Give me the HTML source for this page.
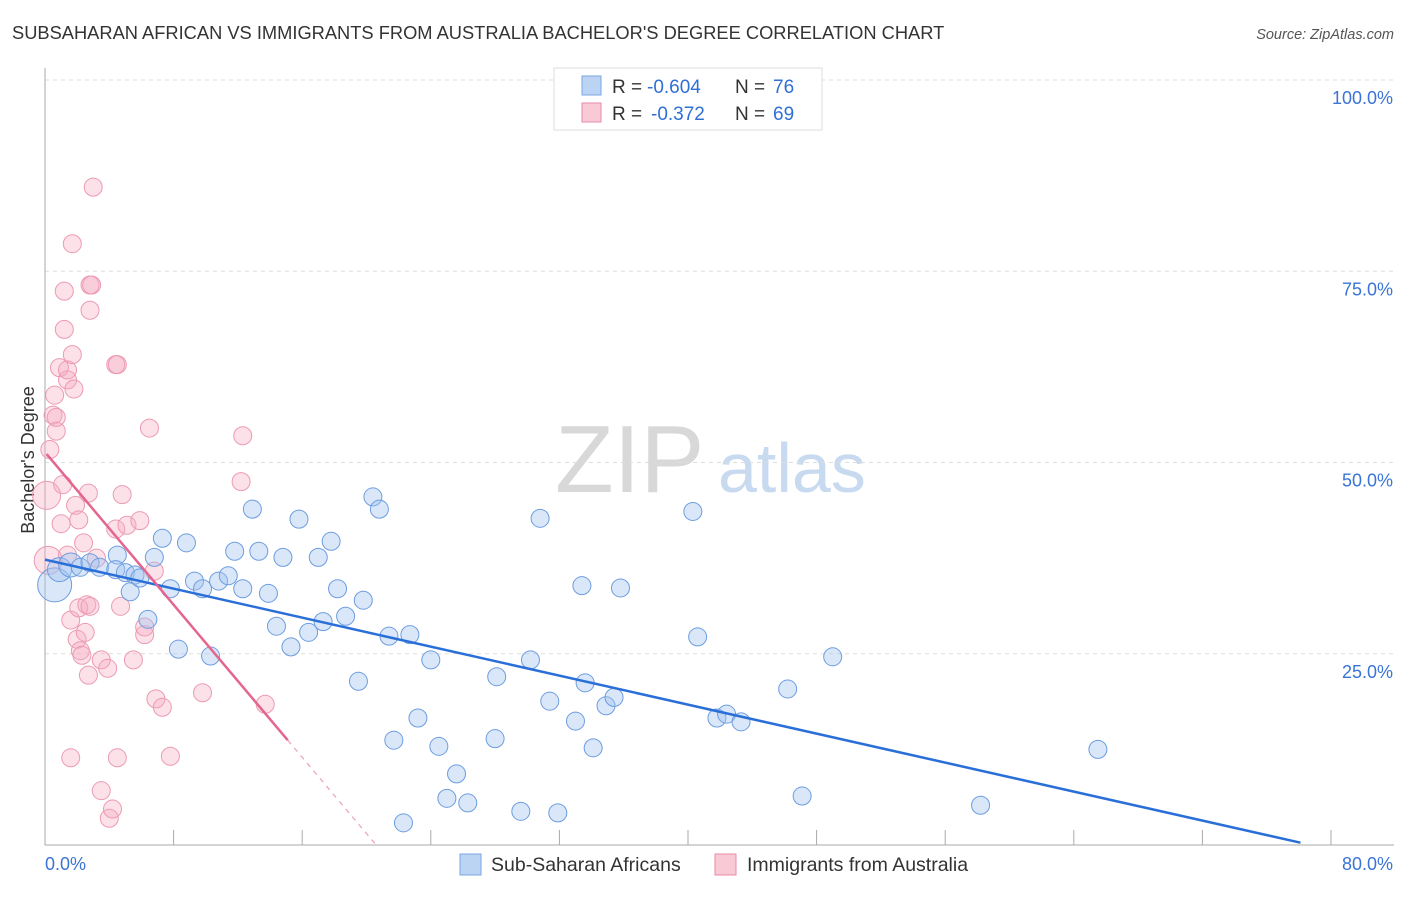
<!DOCTYPE html>
<html><head><meta charset="utf-8"><style>
body{margin:0;background:#fff;font-family:"Liberation Sans",sans-serif;}
svg text{font-family:"Liberation Sans",sans-serif;}
</style></head><body>
<svg id="c" width="1406" height="892">
<text x="12" y="39" font-size="18.3" fill="#333">SUBSAHARAN AFRICAN VS IMMIGRANTS FROM AUSTRALIA BACHELOR'S DEGREE CORRELATION CHART</text>
<text x="1394" y="39" font-size="14.5" fill="#555" font-style="italic" text-anchor="end">Source: ZipAtlas.com</text>
<text x="34" y="460" font-size="18" fill="#333" text-anchor="middle" transform="rotate(-90 34 460)">Bachelor's Degree</text>
<text x="555" y="492" font-size="96" fill="#d8d8d8" font-family="Liberation Serif">ZIP</text>
<text x="718" y="492" font-size="70" fill="#c8daf0">atlas</text>
<g id="grid"></g><g id="pts"></g><g id="lines"></g>
<g>
<rect x="554" y="68" width="268" height="62" fill="#fff" stroke="#ddd"/>
<rect x="582" y="76" width="19" height="19" fill="#bcd4f4" stroke="#7aa6e0"/>
<rect x="582" y="103" width="19" height="19" fill="#f9c9d6" stroke="#e88aa6"/>
<text x="612" y="93" font-size="19" fill="#333">R =</text>
<text x="647" y="93" font-size="19" fill="#2f6fd6">-0.604</text>
<text x="735" y="93" font-size="19" fill="#333">N =</text>
<text x="773" y="93" font-size="19" fill="#2f6fd6">76</text>
<text x="612" y="120" font-size="19" fill="#333">R =</text>
<text x="651" y="120" font-size="19" fill="#2f6fd6">-0.372</text>
<text x="735" y="120" font-size="19" fill="#333">N =</text>
<text x="773" y="120" font-size="19" fill="#2f6fd6">69</text>
</g>
<g>
<rect x="460" y="854" width="21" height="21" fill="#bcd4f4" stroke="#7aa6e0"/>
<text x="491" y="871" font-size="19.5" fill="#333">Sub-Saharan Africans</text>
<rect x="715" y="854" width="21" height="21" fill="#f9c9d6" stroke="#e88aa6"/>
<text x="747" y="871" font-size="19.5" fill="#333">Immigrants from Australia</text>
</g>
</svg>
<script>
const yTicks=[25,50,75,100];
const yTickLabels=["25.0%","50.0%","75.0%","100.0%"];
const blueX=[0.6,0.9,1.6,2.2,2.8,3.4,4.5,4.4,5.0,5.3,5.6,5.9,6.4,6.8,7.3,7.8,8.3,8.8,9.3,9.8,10.3,10.8,11.4,11.8,12.3,12.9,13.3,13.9,14.4,14.8,15.3,15.8,16.4,17.0,17.3,17.8,18.2,18.7,19.5,19.8,20.4,20.8,21.4,21.7,22.3,22.7,23.2,24.0,24.5,25.0,25.6,26.3,28.0,28.1,29.6,30.2,30.8,31.4,31.9,33.0,33.4,33.6,34.1,34.9,35.4,35.8,40.3,40.6,41.8,42.4,43.3,46.2,47.1,49.0,58.2,65.5];
const blueY=[34.0,36.0,36.6,36.3,36.9,36.3,37.9,36.0,35.6,33.1,35.3,34.9,29.5,37.6,40.1,33.5,25.6,39.5,34.5,33.5,24.7,34.5,35.2,38.4,33.5,43.9,38.4,32.9,28.6,37.6,25.9,42.6,27.8,37.6,29.2,39.7,33.5,29.9,21.4,32.0,45.5,43.9,27.3,13.7,2.9,27.5,16.6,24.2,12.9,6.1,9.3,5.5,13.9,22.0,4.4,24.2,42.7,18.8,4.2,16.2,33.9,21.2,12.7,18.2,19.3,33.6,43.6,27.2,16.6,17.1,16.1,20.4,6.4,24.6,5.2,12.5];
const pinkX=[0.1,0.2,0.3,0.5,0.6,0.7,0.7,0.9,1.0,1.1,1.2,1.2,1.4,1.4,1.6,1.6,1.7,1.7,1.8,1.9,2.0,2.1,2.1,2.2,2.3,2.5,2.6,2.7,2.7,2.8,2.8,2.9,2.8,3.0,3.2,3.5,3.5,3.9,4.0,4.2,4.4,4.5,4.7,4.8,5.1,5.5,5.9,6.2,6.2,6.5,6.8,6.9,7.3,7.8,9.8,12.2,12.3,13.7,4.4,4.5,2.4,1.4];
const pinkY=[45.7,37.2,51.7,56.2,58.8,54.1,55.9,62.4,42.0,47.1,72.4,67.4,60.8,62.1,29.4,11.4,78.6,64.1,59.6,44.4,26.9,42.5,31.0,25.4,24.8,27.8,31.4,22.2,46.0,31.2,73.2,73.2,69.9,86.0,37.5,24.2,7.1,23.1,3.5,4.7,41.3,11.4,31.2,45.8,41.8,24.2,42.4,27.5,28.5,54.5,35.8,19.1,18.0,11.6,19.9,47.5,53.5,18.4,62.8,62.8,39.5,37.9];
const blueLine=[[0,37.3],[78.1,0.3]];
const pinkLine=[[0.1,51.1],[15.1,13.7]];
const pinkDash=[[15.1,13.7],[20.6,0]];
const X=v=>45+v/80*1286, Y=v=>845-v/100*765;
const NS="http://www.w3.org/2000/svg";
function mk(tag,attrs,parent){const e=document.createElementNS(NS,tag);for(const k in attrs)e.setAttribute(k,attrs[k]);document.getElementById(parent).appendChild(e);return e;}
yTicks.forEach((t,i)=>{
 const g=mk('line',{x1:45,x2:1394,y1:Y(t),y2:Y(t),stroke:'#ddd','stroke-dasharray':'4,4'},'grid');
 
 
 const tx=mk('text',{x:1393,y:Y(t)+24,'font-size':18,fill:'#3a74d6','text-anchor':'end'},'grid');
 tx.textContent=yTickLabels[i];
 
 
});
const ax=mk('line',{x1:45,x2:45,y1:68,y2:845,stroke:'#aaa'},'grid');


const bx=mk('line',{x1:45,x2:1394,y1:845,y2:845,stroke:'#aaa'},'grid');


for(let i=0;i<=10;i++){const t=mk('line',{x1:X(i*8),x2:X(i*8),y1:830,y2:845,stroke:'#aaa'},'grid');
 
 }
const xl=mk('text',{x:45,y:870,'font-size':18,fill:'#3a74d6'},'grid');xl.textContent='0.0%';


const xr=mk('text',{x:1393,y:870,'font-size':18,fill:'#3a74d6','text-anchor':'end'},'grid');xr.textContent='80.0%';


pinkX.forEach((x,i)=>{const c=mk('circle',{cx:X(x),cy:Y(pinkY[i]),r:(i<2?14:9),fill:'rgba(246,170,192,0.35)',stroke:'#ec9ab3','stroke-width':1},'pts');
 
 });
blueX.forEach((x,i)=>{const c=mk('circle',{cx:X(x),cy:Y(blueY[i]),r:(i==0?17:i<3?12:9),fill:'rgba(160,195,240,0.4)',stroke:'#6d9de0','stroke-width':1},'pts');
 
 });
const bl=mk('line',{x1:X(blueLine[0][0]),y1:Y(blueLine[0][1]),x2:X(blueLine[1][0]),y2:Y(blueLine[1][1]),stroke:'#2a6fd8','stroke-width':2.5},'lines');


const pl=mk('line',{x1:X(pinkLine[0][0]),y1:Y(pinkLine[0][1]),x2:X(pinkLine[1][0]),y2:Y(pinkLine[1][1]),stroke:'#e4658e','stroke-width':2.5},'lines');


const pd=mk('line',{x1:X(pinkDash[0][0]),y1:Y(pinkDash[0][1]),x2:X(pinkDash[1][0]),y2:Y(pinkDash[1][1]),stroke:'#eca0b8','stroke-width':1.2,'stroke-dasharray':'5,5'},'lines');


</script>
</body></html>
